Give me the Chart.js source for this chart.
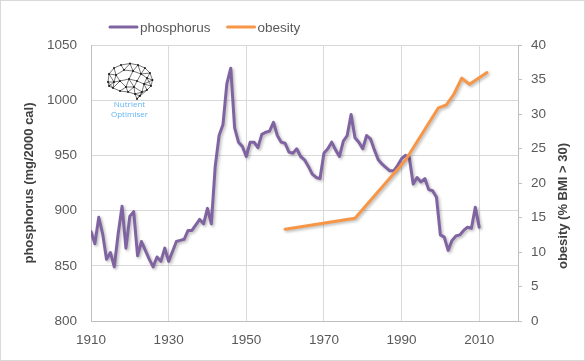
<!DOCTYPE html>
<html>
<head>
<meta charset="utf-8">
<script src="https://cdn.jsdelivr.net/npm/chart.js@4.4.0/dist/chart.umd.min.js"></script>
<style>
  html, body { margin: 0; padding: 0; background: #fff; }
  #wrap { width: 585px; height: 361px; box-sizing: border-box; border: 1px solid #d9d9d9; position: relative; }
  canvas { display: block; }
</style>
</head>
<body>
<div id="wrap"><canvas id="grafico"></canvas></div>
<script>
// phosphorus per year (mg / 2000 cal)
var years = [1910, 1911, 1912, 1913, 1914, 1915, 1916, 1917, 1918, 1919,
  1920, 1921, 1922, 1923, 1924, 1925, 1926, 1927, 1928, 1929,
  1930, 1931, 1932, 1933, 1934, 1935, 1936, 1937, 1938, 1939,
  1940, 1941, 1942, 1943, 1944, 1945, 1946, 1947, 1948, 1949,
  1950, 1951, 1952, 1953, 1954, 1955, 1956, 1957, 1958, 1959,
  1960, 1961, 1962, 1963, 1964, 1965, 1966, 1967, 1968, 1969,
  1970, 1971, 1972, 1973, 1974, 1975, 1976, 1977, 1978, 1979,
  1980, 1981, 1982, 1983, 1984, 1985, 1986, 1987, 1988, 1989,
  1990, 1991, 1992, 1993, 1994, 1995, 1996, 1997, 1998, 1999,
  2000, 2001, 2002, 2003, 2004, 2005, 2006, 2007, 2008, 2009, 2010];
var phosphorus = [881, 870, 894, 879, 856, 862, 849, 879, 904, 866,
  895, 899, 859, 872, 864, 856, 849, 858, 854, 866,
  854, 863, 872, 873, 874, 882, 882, 887, 892, 888,
  902, 888, 940, 968, 978, 1015, 1029, 975, 962, 958,
  949, 962, 962, 957, 969, 971, 972, 980, 968, 962,
  961, 953, 952, 956, 949, 946, 940, 933, 930, 929,
  952, 956, 962, 955, 949, 963, 968, 987, 966, 962,
  956, 968, 965, 955, 946, 942, 939, 936, 936, 941,
  947, 950, 948, 924, 930, 926, 929, 919, 918, 912,
  878, 876, 864, 873, 877, 878, 882, 885, 884, 903, 885];

// obesity (% BMI > 30)
var obesityYears = [1960, 1978, 1991, 1999.5, 2001.5, 2003.5, 2005.5, 2007.5, 2012];
var obesity = [13.3, 14.9, 23.3, 30.9, 31.3, 32.9, 35.2, 34.3, 36.0];

// tick labels
var xTicks = [1910, 1930, 1950, 1970, 1990, 2010];
var leftTicks = [800, 850, 900, 950, 1000, 1050];
var rightTicks = [0, 5, 10, 15, 20, 25, 30, 35, 40];

Chart.defaults.font.family = "'Liberation Sans', Arial, sans-serif";
Chart.defaults.font.size = 13.5;
Chart.defaults.color = '#595959';

function pontos(xs, ys) {
  return xs.map(function(x, i) { return {x: x, y: ys[i]}; });
}

function fixTicks(list) {
  return function(scale) {
    scale.ticks = list.map(function(v) { return {value: v}; });
  };
}

// Excel-like soft shadow under the lines
var sombra = {
  id: 'sombra',
  beforeDatasetDraw: function(chart) {
    var c = chart.ctx;
    c.save();
    c.shadowColor = 'rgba(0,0,0,0.28)';
    c.shadowBlur = 3;
    c.shadowOffsetX = 1.5;
    c.shadowOffsetY = 1.5;
  },
  afterDatasetDraw: function(chart) {
    chart.ctx.restore();
  }
};

// legend at top left
var legenda = {
  id: 'legenda',
  afterDraw: function(chart) {
    var c = chart.ctx;
    var x = 109, y = 26;
    c.save();
    c.font = "13.5px 'Liberation Sans', Arial, sans-serif";
    c.textBaseline = 'middle';
    chart.data.datasets.forEach(function(ds) {
      c.strokeStyle = ds.borderColor;
      c.lineWidth = 3;
      c.lineCap = 'round';
      c.beginPath();
      c.moveTo(x, y);
      c.lineTo(x + 27, y);
      c.stroke();
      c.fillStyle = '#595959';
      c.fillText(ds.label, x + 30, y + 1);
      x += 30 + c.measureText(ds.label).width + 17;
    });
    c.restore();
  }
};

// right axis title, reads bottom to top
var tituloDireita = {
  id: 'tituloDireita',
  afterDraw: function(chart) {
    var c = chart.ctx;
    c.save();
    c.translate(562, 205);
    c.rotate(-Math.PI / 2);
    c.font = "bold 13px 'Liberation Sans', Arial, sans-serif";
    c.fillStyle = '#404040';
    c.textAlign = 'center';
    c.textBaseline = 'middle';
    c.fillText('obesity (% BMI > 30)', 0, 0);
    c.restore();
  }
};

// small "Nutrient Optimiser" brain logo
var logo = {
  id: 'logo',
  beforeDatasetsDraw: function(chart) {
    var c = chart.ctx;
    var ox = 105, oy = 62;
    var nos = [[2,19],[3,11],[8,5],[15,2],[24,0.5],[32,2],[39,5],[44,10],[46.5,17],[45,23],
      [41,27],[36,29],[34,33],[31,36],[29,31],[22,29],[14,28],[7,25],[3,23],
      [10,12],[18,7],[27,8],[35,11],[41,15],[14,18],[23,16],[31,18],[38,21],[20,24],[28,24],[8,19]];
    c.save();
    c.strokeStyle = '#1a1a1a';
    c.lineWidth = 0.6;
    for (var i = 0; i < nos.length; i++) {
      for (var j = i + 1; j < nos.length; j++) {
        var dx = nos[i][0] - nos[j][0], dy = nos[i][1] - nos[j][1];
        if (Math.sqrt(dx * dx + dy * dy) < 10) {
          c.beginPath();
          c.moveTo(ox + nos[i][0], oy + nos[i][1]);
          c.lineTo(ox + nos[j][0], oy + nos[j][1]);
          c.stroke();
        }
      }
    }
    c.fillStyle = '#111';
    nos.forEach(function(p) {
      c.beginPath();
      c.arc(ox + p[0], oy + p[1], 0.9, 0, Math.PI * 2);
      c.fill();
    });
    c.fillStyle = '#62b4f4';
    c.font = "8px 'Open Sans', sans-serif";
    c.textAlign = 'center';
    c.textBaseline = 'middle';
    c.fillText('Nutrient', 128.5, 104);
    c.fillText('Optimiser', 128.5, 113.5);
    c.restore();
  }
};

var ctx = document.getElementById('grafico');
var myChart = new Chart(ctx, {
  type: 'line',
  data: {
    datasets: [{
      label: 'phosphorus',
      data: pontos(years, phosphorus),
      borderColor: '#8064A2',
      backgroundColor: '#8064A2',
      borderWidth: 3,
      pointRadius: 0,
      tension: 0,
      borderJoinStyle: 'round',
      borderCapStyle: 'round',
      yAxisID: 'y',
      order: 1
    }, {
      label: 'obesity',
      data: pontos(obesityYears, obesity),
      borderColor: '#F79646',
      backgroundColor: '#F79646',
      borderWidth: 3,
      pointRadius: 0,
      tension: 0,
      borderJoinStyle: 'round',
      borderCapStyle: 'round',
      yAxisID: 'y1',
      order: 0
    }]
  },
  options: {
    responsive: true,
    maintainAspectRatio: false,
    animation: false,
    layout: { padding: { left: 21, right: 0, top: 44, bottom: 0 } },
    plugins: {
      legend: { display: false },
      tooltip: { enabled: false }
    },
    scales: {
      x: {
        type: 'linear',
        min: 1910,
        max: 2020,
        afterBuildTicks: fixTicks(xTicks),
        afterFit: function(s) { s.height = 39; },
        grid: { color: '#D9D9D9', drawTicks: false },
        border: { color: '#BFBFBF' },
        ticks: { padding: 11, maxRotation: 0, autoSkip: false, callback: function(v) { return String(v); } }
      },
      y: {
        position: 'left',
        min: 800,
        max: 1050,
        afterBuildTicks: fixTicks(leftTicks),
        afterFit: function(s) { s.width = 69; },
        grid: { color: '#D9D9D9', drawTicks: false },
        border: { color: '#BFBFBF' },
        ticks: { padding: 14, callback: function(v) { return String(v); } },
        title: {
          display: true,
          text: 'phosphorus (mg/2000 cal)',
          color: '#404040',
          font: { weight: 'bold', size: 13 },
          padding: { top: 0, bottom: 0 }
        }
      },
      y1: {
        position: 'right',
        min: 0,
        max: 40,
        afterBuildTicks: fixTicks(rightTicks),
        afterFit: function(s) { s.width = 66; },
        grid: { drawOnChartArea: false, drawTicks: true, tickLength: 4, color: '#BFBFBF' },
        border: { color: '#BFBFBF' },
        ticks: { padding: 9, callback: function(v) { return String(v); } }
      }
    }
  },
  plugins: [sombra, legenda, tituloDireita, logo]
});
</script>
</body>
</html>
